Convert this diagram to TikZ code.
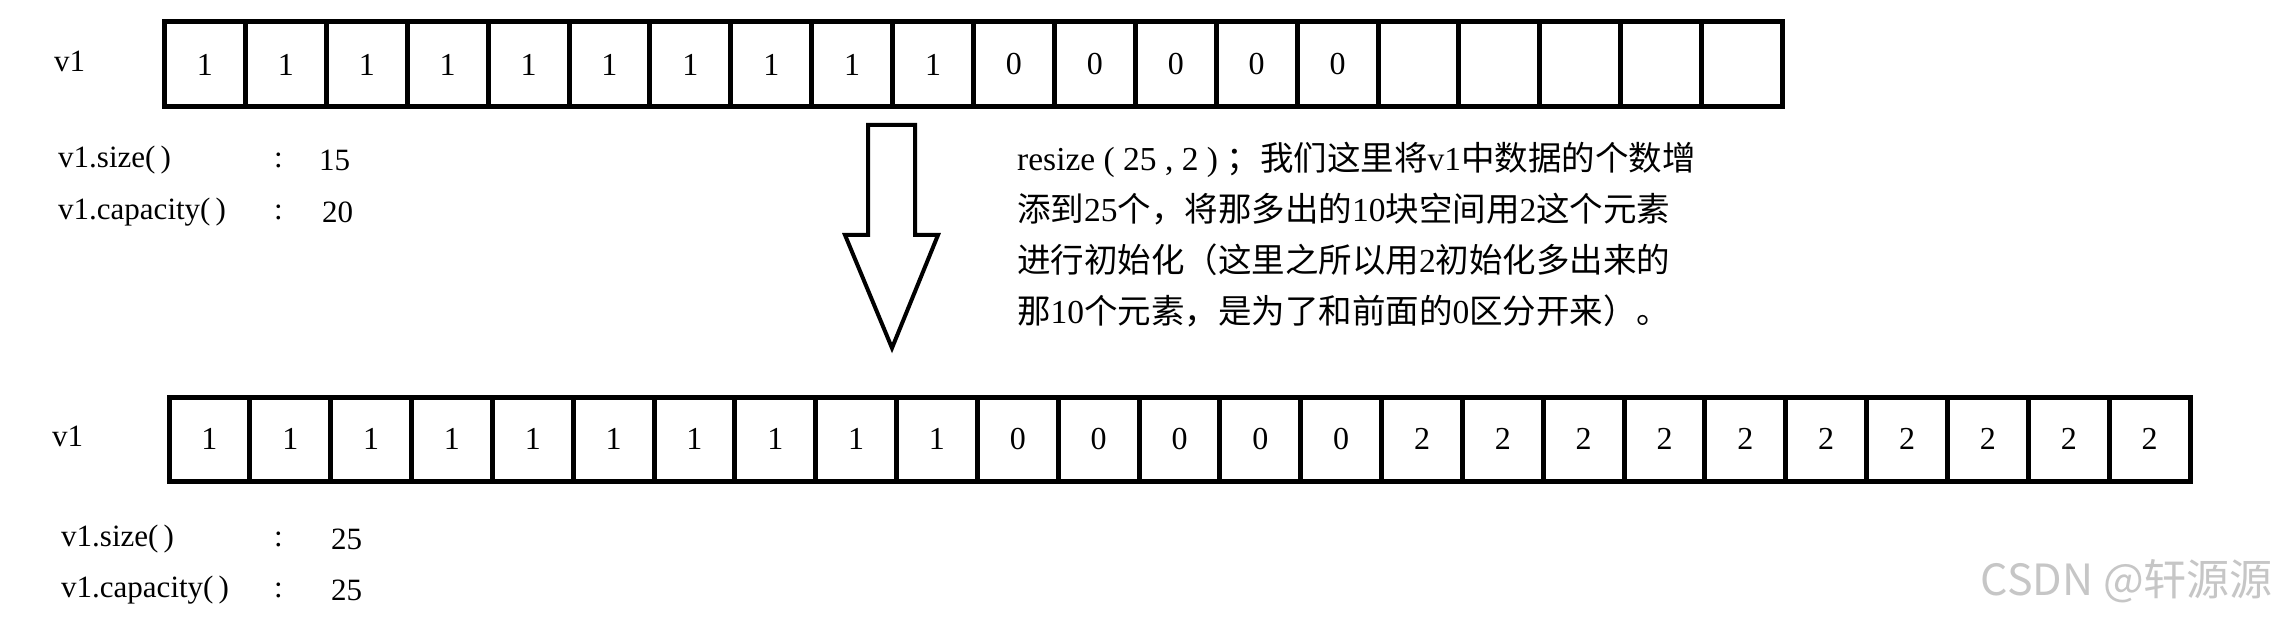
\documentclass[tikz,border=0pt]{standalone}
\usepackage{fontspec}
\setmainfont{Liberation Serif}
\newfontfamily\cjk{Noto Sans CJK SC}
\begin{document}
\begin{tikzpicture}[x=1pt,y=-1pt,
  cell/.style={draw, line width=5pt, minimum width=80.9pt, minimum height=85pt, inner sep=0pt, anchor=north west, font=\fontsize{32}{32}\selectfont},
  bcell/.style={cell, minimum width=80.84pt, minimum height=84pt},
  lbl/.style={anchor=west, inner sep=0pt, font=\fontsize{31}{31}\selectfont},
  cjktext/.style={anchor=north west, inner sep=0pt, align=left, font=\fontsize{33.5}{51}\selectfont},
]
\useasboundingbox[fill=white] (0,0) rectangle (2277,617);
% top array
\foreach \v [count=\i] in {1,1,1,1,1,1,1,1,1,1,0,0,0,0,0,{},{},{},{},{}}
  \node[cell] (t\i) at ({162+(\i-1)*80.9},19.5) {\v};
% bottom array
\foreach \v [count=\i] in {1,1,1,1,1,1,1,1,1,1,0,0,0,0,0,2,2,2,2,2,2,2,2,2,2}
  \node[bcell] (b\i) at ({166.5+(\i-1)*80.84},394.5) {\v};
% labels top
\node[lbl] (tv) at (54,61) {v1};
\node[lbl] (ts) at (58,160) {v1.size(\,)};
\node[lbl] (tsc) at (274,160) {:};
\node[lbl] (tsv) at (319,160) {15};
\node[lbl] (tc) at (58,212) {v1.capacity(\,)};
\node[lbl] (tcc) at (274,212) {:};
\node[lbl] (tcv) at (322,212) {20};
% labels bottom
\node[lbl] (bv) at (52,436) {v1};
\node[lbl] (bs) at (61,539) {v1.size(\,)};
\node[lbl] (bsc) at (274,539) {:};
\node[lbl] (bsv) at (331,539) {25};
\node[lbl] (bc) at (61,590) {v1.capacity(\,)};
\node[lbl] (bcc) at (274,590) {:};
\node[lbl] (bcv) at (331,590) {25};
% arrow
\draw[line width=4pt, line join=miter] (868,125) -- (915,125) -- (915,235) -- (938,235) -- (892,348) -- (845,235) -- (868,235) -- cycle;
% explanation
\node[cjktext] (note) at (1017,142) {resize ( 25 , 2 ) {\cjk ；我们这里将}v1{\cjk 中数据的个数增}\\
{\cjk 添到}25{\cjk 个，将那多出的}10{\cjk 块空间用}2{\cjk 这个元素}\\
{\cjk 进行初始化（这里之所以用}2{\cjk 初始化多出来的}\\
{\cjk 那}10{\cjk 个元素，是为了和前面的}0{\cjk 区分开来）。}};
% watermark
\node[anchor=east, inner sep=0pt, text=gray!45, font=\cjk\fontsize{43}{43}\selectfont] (wm) at (2273,581) {CSDN @轩源源};
\end{tikzpicture}
\end{document}
